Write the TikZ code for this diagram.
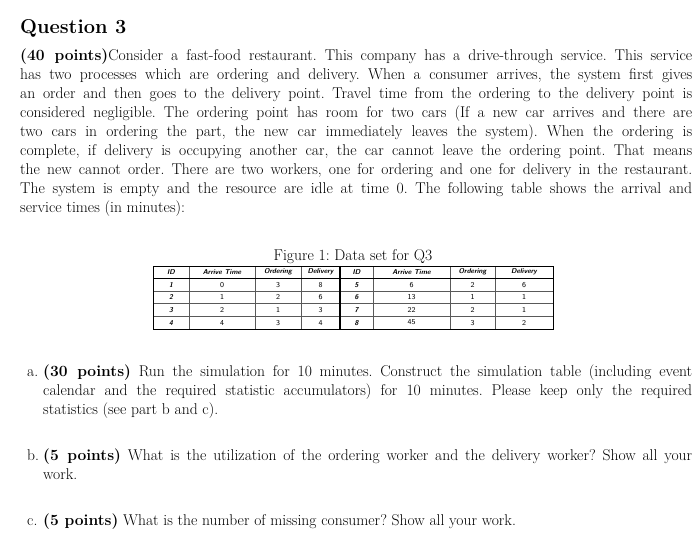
\documentclass[tikz,border=0pt]{standalone}
\begin{document}
\frenchspacing
\begin{tikzpicture}[x=1pt,y=1pt,
  para/.style={anchor=north west,inner sep=0pt,text width=#1,align=justify,font=\fontsize{15.6}{18.9}\selectfont\frenchspacing},
  lab/.style={anchor=north west,inner sep=0pt,font=\fontsize{15.6}{18.9}\selectfont},
  hd/.style={font=\sffamily\bfseries\itshape\fontsize{7}{8}\selectfont,inner sep=0pt},
  cell/.style={font=\sffamily\fontsize{7.5}{8}\selectfont,inner sep=0pt}]
\useasboundingbox (0,0) rectangle (700,-554);
\fill[white] (0,0) rectangle (700,-554);
\node[anchor=west,inner sep=0pt,font=\fontsize{20}{24}\selectfont\bfseries] (q) at (20,-28) {Question 3};
\node[para=672pt] (p) at (20,-49) {\textbf{(40 points)}Consider a fast-food restaurant. This company has a drive-through service. This service\linebreak
has two processes which are ordering and delivery. When a consumer arrives, the system first gives\linebreak
an order and then goes to the delivery point. Travel time from the ordering to the delivery point is\linebreak
considered negligible. The ordering point has room for two cars (If a new car arrives and there are\linebreak
two cars in ordering the part, the new car immediately leaves the system). When the ordering is\linebreak
complete, if delivery is occupying another car, the car cannot leave the ordering point. That means\linebreak
the new cannot order. There are two workers, one for ordering and one for delivery in the restaurant.\linebreak
The system is empty and the resource are idle at time 0. The following table shows the arrival and\linebreak
service times (in minutes):};
\node[inner sep=0pt,font=\fontsize{15.6}{18}\selectfont] (cap) at (353,-257) {Figure 1: Data set for Q3};
% table
\def\xs{153,189,255,301,340,373,450,495,553}
\def\ys{266,278.5,291,303.5,316,329}
\foreach \x in \xs {\draw[gray!70!black,line width=0.6pt] (\x,-266) -- (\x,-329);}
\foreach \y in \ys {\draw[gray!70!black,line width=0.6pt] (153,-\y) -- (553,-\y);}
\draw[line width=1.2pt] (340,-266) -- (340,-329);
\draw[line width=1pt] (153,-266) rectangle (553,-329);
\draw[line width=1pt] (153,-278.5) -- (553,-278.5);
\foreach \t/\x in {ID/171,Arrive Time/222,Ordering/278,Delivery/320.5,ID/356.5,Arrive Time/411.5,Ordering/472.5,Delivery/524}
  \node[hd] (h\x) at (\x,-272.2) {\t};
\foreach \r/\a/\b/\c/\d/\e/\f/\g/\h [count=\i] in {1/0/3/8/5/6/2/6,2/1/2/6/6/13/1/1,3/2/1/3/7/22/2/1,4/4/3/4/8/45/3/2}{
  \pgfmathsetmacro\yy{-272.2-12.6*\i}
  \node[hd] (r\i a) at (171,\yy) {\r};
  \node[cell] (r\i b) at (222,\yy) {\a};
  \node[cell] (r\i c) at (278,\yy) {\b};
  \node[cell] (r\i d) at (320.5,\yy) {\c};
  \node[hd] (r\i e) at (356.5,\yy) {\d};
  \node[cell] (r\i f) at (411.5,\yy) {\e};
  \node[cell] (r\i g) at (472.5,\yy) {\f};
  \node[cell] (r\i h) at (524,\yy) {\g};
}
\node[lab] (la) at (27,-363) {\strut a.};
\node[para=649pt] (a) at (43,-363) {\strut\textbf{(30 points)} Run the simulation for 10 minutes. Construct the simulation table (including event\linebreak
calendar and the required statistic accumulators) for 10 minutes. Please keep only the required\linebreak
statistics (see part b and c).};
\node[lab] (lb) at (27,-447) {\strut b.};
\node[para=649pt] (b) at (43,-447) {\strut\textbf{(5 points)} What is the utilization of the ordering worker and the delivery worker? Show all your\linebreak
work.};
\node[lab] (lc) at (27,-512) {\strut c.};
\node[para=649pt] (c) at (43,-512) {\strut\textbf{(5 points)} What is the number of missing consumer? Show all your work.};
\end{tikzpicture}
\end{document}
